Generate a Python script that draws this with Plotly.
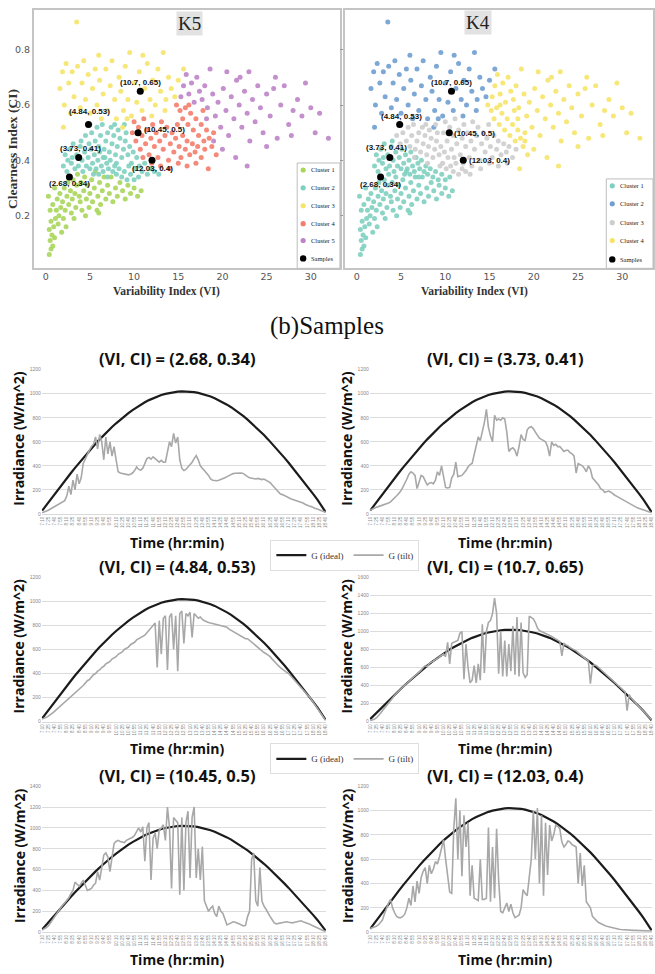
import plotly.graph_objects as go

W, H = 655, 974

# ---------------- scatter data (VI, CI) grouped by (K5 cluster, K4 cluster) ----------------
pts_k5c1_k4c1 = [(0.4,0.06),(0.6,0.08),(0.5,0.11),(0.8,0.09),(0.7,0.13),(1.0,0.12),(0.4,0.15),(0.9,0.16),(0.6,0.18),(1.1,0.19),
    (0.5,0.22),(0.8,0.24),(1.2,0.22),(1.4,0.17),(1.5,0.2),(1.3,0.26),(1.7,0.23),(1.6,0.28),(1.9,0.25),(2.0,0.19),(2.1,0.3),
    (2.2,0.22),(2.4,0.27),(2.5,0.32),(2.6,0.24),(2.8,0.29),(2.9,0.21),(3.0,0.26),(3.1,0.33),(3.3,0.28),(3.4,0.23),(3.5,0.31),
    (3.6,0.35),(3.8,0.27),(3.9,0.25),(4.0,0.32),(4.1,0.22),(4.3,0.29),(4.4,0.34),(4.6,0.26),(4.7,0.31),(4.9,0.23),(5.0,0.28),
    (5.2,0.33),(5.3,0.25),(5.5,0.3),(5.6,0.36),(5.8,0.22),(5.9,0.27),(6.1,0.32),(6.2,0.24),(6.4,0.29),(6.6,0.34),(6.8,0.26),
    (7.0,0.31),(7.2,0.28),(7.4,0.34),(7.6,0.25),(7.9,0.3),(8.1,0.27),(8.4,0.32),(8.7,0.29),(9.0,0.26),(9.3,0.31),(9.6,0.28),
    (10.0,0.3),(10.4,0.27),(10.8,0.29),(2.3,0.16),(1.8,0.14),(3.2,0.19),(6.0,0.21),(0.3,0.27),(1.0,0.3),(4.5,0.2)]
pts_k5c2_k4c1 = [(2.0,0.38),(2.2,0.42),(2.4,0.36),(2.7,0.44),(2.9,0.39),(3.1,0.46),(3.3,0.37),(3.5,0.42),(3.7,0.38),(3.9,0.45),
    (4.1,0.4),(4.2,0.36),(4.4,0.43),(4.6,0.38),(4.8,0.41),(5.0,0.37),(5.1,0.44),(5.3,0.39),(5.5,0.42),(5.7,0.37),(5.9,0.4),
    (6.1,0.43),(6.3,0.38),(6.5,0.36),(6.7,0.41),(6.9,0.39),(7.1,0.37),(7.3,0.4),(7.6,0.36),(7.8,0.38),(8.0,0.35),(8.3,0.37),
    (8.6,0.34),(8.9,0.36),(9.2,0.33),(9.6,0.35),(10.0,0.33),(10.5,0.34),(3.0,0.41),(4.0,0.47),(5.4,0.35),(6.0,0.35),(7.0,0.34),(2.5,0.4)]
pts_k5c2_k4c3 = [(4.5,0.49),(4.9,0.46),(5.2,0.5),(5.6,0.47),(5.8,0.52),(6.0,0.45),(6.2,0.49),(6.4,0.53),(6.6,0.44),(6.8,0.47),
    (7.0,0.5),(7.2,0.43),(7.4,0.52),(7.5,0.46),(7.7,0.49),(7.9,0.42),(8.1,0.45),(8.2,0.51),(8.4,0.48),(8.6,0.41),(8.8,0.44),
    (9.0,0.47),(9.1,0.5),(9.3,0.42),(9.5,0.45),(9.7,0.39),(9.9,0.43),(10.1,0.37),(10.3,0.41),(10.6,0.38),(10.9,0.36),(11.2,0.39),
    (11.5,0.35),(11.9,0.37),(12.3,0.36),(12.8,0.35),(8.0,0.39),(6.5,0.41),(9.4,0.38),(7.8,0.53),(5.0,0.53),(8.9,0.53)]
pts_k5c4_k4c3 = [(9.8,0.5),(10.0,0.54),(10.2,0.47),(10.5,0.52),(10.7,0.44),(10.9,0.49),(11.1,0.55),(11.3,0.46),(11.5,0.51),
    (11.7,0.42),(11.9,0.48),(12.1,0.53),(12.3,0.45),(12.5,0.5),(12.7,0.41),(12.9,0.47),(13.1,0.54),(13.3,0.44),(13.5,0.49),
    (13.7,0.52),(13.9,0.4),(14.1,0.46),(14.3,0.5),(14.5,0.43),(14.7,0.48),(14.9,0.53),(15.1,0.45),(15.3,0.41),(15.5,0.49),
    (15.8,0.44),(16.0,0.47),(16.3,0.42),(16.6,0.46),(16.9,0.43),(17.2,0.45),(17.6,0.41),(18.0,0.44),(13.0,0.38),(14.0,0.37),
    (12.0,0.39),(11.0,0.41),(15.0,0.39),(16.0,0.38),(17.0,0.39)]
pts_k5c4_k4c4 = [(15.2,0.58),(15.5,0.55),(15.8,0.59),(16.1,0.53),(16.4,0.57),(16.7,0.51),(17.0,0.55),(17.3,0.49),(17.6,0.53),
    (17.9,0.47),(18.2,0.51),(18.5,0.48),(18.8,0.45),(19.0,0.5),(18.4,0.37),(17.8,0.58),(16.2,0.6),(14.8,0.6),(19.3,0.42)]
pts_k5c5_k4c4 = [(15.3,0.63),(15.6,0.67),(15.9,0.71),(16.2,0.64),(16.5,0.68),(16.8,0.61),(17.1,0.7),(17.4,0.65),(17.7,0.62),
    (18.0,0.67),(18.3,0.59),(18.6,0.73),(18.9,0.64),(19.2,0.56),(19.5,0.61),(19.8,0.52),(20.1,0.66),(20.4,0.58),(20.7,0.49),
    (21.0,0.63),(21.3,0.55),(21.6,0.69),(21.9,0.6),(22.2,0.52),(22.5,0.65),(22.8,0.57),(23.1,0.47),(23.4,0.62),(23.7,0.54),
    (24.0,0.67),(24.3,0.59),(24.6,0.5),(25.0,0.64),(25.4,0.56),(25.8,0.66),(26.2,0.48),(26.6,0.6),(27.0,0.67),(27.5,0.53),
    (28.0,0.58),(28.5,0.62),(29.0,0.56),(29.4,0.68),(30.0,0.59),(30.5,0.5),(31.0,0.57),(32.0,0.48),(20.0,0.44),(21.5,0.41),
    (22.8,0.38),(19.0,0.47),(25.0,0.45),(27.8,0.49),(18.2,0.55),(20.5,0.72),(22.0,0.7),(23.0,0.72),(26.0,0.7)]
pts_k5c3_k4c2 = [(1.6,0.66),(1.9,0.72),(2.1,0.6),(2.3,0.75),(2.6,0.68),(2.8,0.57),(3.0,0.72),(3.2,0.63),(3.5,0.9),(3.6,0.74),
    (3.9,0.59),(4.1,0.68),(4.3,0.76),(4.5,0.62),(4.8,0.71),(5.0,0.57),(5.3,0.66),(5.6,0.73),(5.8,0.6),(6.1,0.69),(6.3,0.55),
    (6.5,0.64),(6.8,0.73),(7.0,0.58),(7.3,0.67),(7.5,0.76),(7.8,0.62),(8.0,0.55),(8.3,0.7),(8.5,0.65),(8.8,0.58),(9.0,0.74),
    (9.3,0.62),(9.5,0.79),(9.7,0.56),(10.0,0.68),(10.3,0.61),(10.6,0.72),(10.9,0.58),(11.2,0.66),(11.5,0.75),(11.8,0.62),
    (12.1,0.69),(12.4,0.6),(12.7,0.73),(13.0,0.65),(13.3,0.79),(13.6,0.62),(13.9,0.7),(14.2,0.66),(14.6,0.63),(15.0,0.69),
    (15.6,0.73),(8.7,0.52),(9.2,0.55),(6.0,0.78),(11.0,0.78),(12.0,0.56),(13.5,0.58),(2.0,0.52)]

sample_vi = [2.68, 3.73, 4.84, 10.7, 10.45, 12.03]
sample_ci = [0.34, 0.41, 0.53, 0.65, 0.5, 0.4]
sample_text = ["(2.68, 0.34)", "(3.73, 0.41)", "(4.84, 0.53)", "(10.7, 0.65)", "(10.45, 0.5)", "(12.03, 0.4)"]

k5_names = ["Cluster 1", "Cluster 2", "Cluster 3", "Cluster 4", "Cluster 5"]
k5_colors = ["#a9d65a", "#7fd0c0", "#f6e46a", "#f47c6c", "#bd83c6"]
k4_names = ["Cluster 1", "Cluster 2", "Cluster 3", "Cluster 4"]
k4_colors = ["#7fd0c0", "#6f9fd0", "#cdcdcd", "#f6e46a"]

groups = [  # (points, K5 cluster index, K4 cluster index)
    (pts_k5c1_k4c1, 0, 0), (pts_k5c2_k4c1, 1, 0), (pts_k5c2_k4c3, 1, 2), (pts_k5c4_k4c3, 3, 2),
    (pts_k5c4_k4c4, 3, 3), (pts_k5c5_k4c4, 4, 3), (pts_k5c3_k4c2, 2, 1)]

# ---------------- irradiance data ----------------
time_ticks = ["7:10","7:25","7:40","7:55","8:10","8:25","8:40","8:55","9:10","9:25","9:40","9:55","10:10","10:25",
    "10:40","10:55","11:10","11:25","11:40","11:55","12:10","12:25","12:40","12:55","13:10","13:25","13:40","13:55",
    "14:10","14:25","14:40","14:55","15:10","15:25","15:40","15:55","16:10","16:25","16:40","16:55","17:10","17:25",
    "17:40","17:55","18:10","18:25","18:40"]
tick_minutes = list(range(0, 691, 15))   # minutes after 7:10
ideal_minutes = list(range(0, 691, 10))
tilt_minutes = list(range(0, 691, 5))

g_ideal = [27,73,118,164,208,253,297,340,383,425,466,506,545,583,620,656,690,723,754,784,813,839,864,888,909,929,
    947,963,977,989,999,1007,1014,1018,1020,1020,1018,1014,1007,999,989,977,963,947,929,909,888,864,839,813,784,754,
    723,690,656,620,583,545,506,466,425,383,340,297,253,208,164,118,70,15]

tilt_1 = [10,15,20,30,40,50,60,65,75,85,95,110,
    150,230,160,280,200,330,250,300, 420,460,500,530, 560,580,640,540,660,600, 450,640,500,600,480,560,450,
    350,340,335,330,325,325,330,340,360,390, 370,365,380,420,460, 470,455,475,460,440,430,445,430,
    430,520,600,560,670,590,640,450,380, 360,370,390,410,430,460,485, 450,400,380,355,340,320,290,280,
    275,275,280,285,290,300,310,320,330,335,338,340,340, 340,335,320,310,300,295,290,290,295,290,285,290,280,270,
    260,240,220,200,180,165,160,150, 140,130,125,120,115,105,100,95,90, 80,70,65,60,50,45,40,30,25,20,15]
tilt_2 = [30,40,45,55,60,65,70,75,80,90, 100,115,130,150,170,190,220,250,290,330,
    350,340,320,210,260,320,310,280,240,255, 260,250,280,350,320,400,320,220,215,220,
    300,330,430,310,315,320,340,360,390,410, 420,500,560,640,610,680,760,870,720,650,
    600,820,780,790,780,800,790,680,520,540, 550,530,480,560,660,620,610,700,720,725,
    710,680,650,630,620,610,600,560,480,600, 570,580,560,560,540,520,530,530,510,500,
    480,340,420,410,400,380,350,400,370,300, 280,260,240,210,200,180,185,190,180,165,
    155,145,135,130,120,110,100,90,80,70, 60,50,45,40,30,25,20,15,10]
tilt_3 = [20,25,35,45,55,70,85,100,115,130, 145,160,175,190,210,225,240,255,270,285,
    300,320,340,350,370,390,400,420,430,450, 460,480,490,500,520,530,540,560,570,580,
    600,610,620,640,650,660,680,690,700,710, 720,740,760,780,800,820,450,840,560,860,
    880,430,870,900,600,880,420,900,920,650, 900,880,910,700,900,880,860,870,850,840,
    830,825,820,815,810,805,800,795,790,790, 785,770,760,750,740,730,720,710,700,690,
    690,675,660,645,630,615,600,590,575,565, 555,540,520,500,480,465,450,435,420,410,
    400,380,360,340,320,300,280,260,240,225, 210,185,160,135,110,85,60,35,10]
tilt_4 = [10,15,25,40,60,90,120,150,180,210, 240,265,290,315,340,361,383,404,425,445,
    466,486,506,525,545,570,600,620,610,645, 660,670,690,700,720,740,750,720,880,640,
    870,880,890,900,980,1000,470,860,600,430, 460,620,430,640,460,1080,540,1000,1100,1120,
    1200,1370,1200,530,1000,500,900,500,860,560, 1060,520,1160,500,1100,540,490,520,1170,1150,
    1140,1100,1040,1010,1000,985,975,965,955,945, 930,915,900,890,730,870,850,840,820,810,
    800,785,765,745,730,710,690,670,420,620, 630,620,600,580,560,540,520,500,480,460,
    440,420,400,380,350,330,120,300,260,230, 210,185,160,135,110,85,60,35,20]
tilt_5 = [20,30,45,60,90,120,150,175,200,230, 260,280,300,330,370,400,480,460,440,470,
    500,450,400,410,420,450,470,580,500,620, 740,760,720,580,720,850,870,880,870,865,
    860,880,890,900,910,930,960,1000,960,1010, 680,1000,1050,500,900,950,800,980,1000,1030,
    880,1200,1000,420,1100,1080,1050,360,1100,400, 1050,1160,520,1100,1200,520,800,500,820,300,
    250,200,230,250,180,150,250,200,180,120, 70,80,90,100,95,90,80,70,60,65,
    150,200,700,760,300,250,620,300,250,220, 180,150,120,90,80,85,90,95,100,100,
    95,90,90,95,100,105,110,100,95,90, 80,70,60,50,40,30,20,15,10]
tilt_6 = [30,35,40,50,60,80,100,150,200,240, 270,200,160,130,120,120,130,150,200,280,
    220,380,250,420,320,450,500,530,400,550, 480,520,580,560,620,700,760,600,450,330,
    320,850,1100,600,1000,460,960,700,900,300, 550,280,270,260,600,270,270,280,860,250,
    700,280,850,430,170,160,200,240,170,230, 160,120,130,140,200,350,320,300,450,600,
    1000,600,1020,400,960,300,900,470,880,750, 800,880,870,850,740,700,720,750,740,720,
    710,700,400,650,380,550,250,220,200,130, 110,95,80,70,60,55,50,45,40,35,
    30,28,25,22,20,20,18,17,16,15, 15,14,13,12,12,11,10,10,10]

panel_titles = ["(VI, CI) = (2.68, 0.34)", "(VI, CI) = (3.73, 0.41)", "(VI, CI) = (4.84, 0.53)",
                "(VI, CI) = (10.7, 0.65)", "(VI, CI) = (10.45, 0.5)", "(VI, CI) = (12.03, 0.4)"]
panel_tilts = [tilt_1, tilt_2, tilt_3, tilt_4, tilt_5, tilt_6]
panel_ymax = [1200, 1200, 1200, 1600, 1400, 1200]

# ---------------- layout helpers ----------------
def fx(p):
    return p / W

def fy(p):
    return 1 - p / H

fig = go.Figure()
layout = dict(width=W, height=H, margin=dict(l=0, r=0, t=0, b=0), autosize=False,
              paper_bgcolor="white", plot_bgcolor="white", showlegend=True)
annotations = []
shapes = []

SERIF = "Liberation Serif, Times New Roman, serif"
SANS = "Open Sans, sans-serif"
LABEL = "Liberation Sans, Arial, sans-serif"

# ---------------- scatter panels ----------------
scat_dom_x = [[fx(32), fx(340)], [fx(345), fx(655)]]
scat_xrange = [[-1.35, 33.3], [-1.35, 33.48]]
for k in range(2):
    xa = "xaxis" if k == 0 else "xaxis2"
    ya = "yaxis" if k == 0 else "yaxis2"
    layout[xa] = dict(domain=scat_dom_x[k], range=scat_xrange[k], anchor="y" if k == 0 else "y2",
                      tickvals=[0, 5, 10, 15, 20, 25, 30], showgrid=False, zeroline=False,
                      showline=True, mirror=True, linecolor="#c4c4c4", linewidth=1.5,
                      tickfont=dict(family="DejaVu Sans", size=9.5, color="#555"), ticks="",
                      ticklabelstandoff=-2)
    layout[ya] = dict(domain=[fy(267), fy(7)], range=[0.0096, 0.9437], anchor="x" if k == 0 else "x2",
                      tickvals=[0.2, 0.4, 0.6, 0.8], showgrid=False, zeroline=False,
                      showline=True, mirror=True, linecolor="#c4c4c4", linewidth=1.5,
                      tickfont=dict(family="DejaVu Sans", size=9.5, color="#555"),
                      showticklabels=(k == 0), ticks="" if k == 0 else "outside", ticklen=3, tickcolor="#999")

for k5_i in range(5):
    vx, vy = [], []
    for pts, a, b in groups:
        if a == k5_i:
            vx += [p[0] for p in pts]
            vy += [p[1] for p in pts]
    fig.add_trace(go.Scatter(x=vx, y=vy, mode="markers", xaxis="x", yaxis="y", showlegend=False,
                             marker=dict(size=5, color=k5_colors[k5_i], opacity=0.9)))
for k4_i in range(4):
    vx, vy = [], []
    for pts, a, b in groups:
        if b == k4_i:
            vx += [p[0] for p in pts]
            vy += [p[1] for p in pts]
    fig.add_trace(go.Scatter(x=vx, y=vy, mode="markers", xaxis="x2", yaxis="y2", showlegend=False,
                             marker=dict(size=5, color=k4_colors[k4_i], opacity=0.9)))
for xr, yr in [("x", "y"), ("x2", "y2")]:
    fig.add_trace(go.Scatter(x=sample_vi, y=sample_ci, mode="markers", xaxis=xr, yaxis=yr, showlegend=False,
                             marker=dict(size=7, color="black")))

# (xshift, yshift, xanchor)
k5_shift = [(0, -7, "center"), (2, 9, "center"), (1, 13, "center"), (0, 9, "center"), (4, 3, "left"), (0, -8, "center")]
k4_shift = [(0, -8, "center"), (-3, 10, "center"), (2, 8, "center"), (0, 9, "center"), (3, -1, "left"), (4, 0, "left")]
for shifts, xr, yr in [(k5_shift, "x", "y"), (k4_shift, "x2", "y2")]:
    for i in range(6):
        annotations.append(dict(x=sample_vi[i], y=sample_ci[i], xref=xr, yref=yr, text="<b>" + sample_text[i] + "</b>",
                                showarrow=False, xshift=shifts[i][0], yshift=shifts[i][1],
                                font=dict(family=LABEL, size=8, color="#111"), xanchor=shifts[i][2], yanchor="middle"))

# titles K5 / K4
for txt, cx, cy in [("K5", 189, 21), ("K4", 479, 20)]:
    annotations.append(dict(x=fx(cx), y=fy(cy), xref="paper", yref="paper", text=txt, showarrow=False,
                            font=dict(family=SERIF, size=19, color="#222"), bgcolor="#e2e2e2",
                            xanchor="center", yanchor="middle", borderpad=1))
annotations.append(dict(x=fx(10), y=fy(147), xref="paper", yref="paper", text="<b>Clearness Index (CI)</b>",
                        textangle=-90, showarrow=False, font=dict(family=SERIF, size=13.5, color="#333"),
                        xanchor="center", yanchor="middle"))
for cx in [166, 475]:
    annotations.append(dict(x=fx(cx), y=fy(290), xref="paper", yref="paper", text="<b>Variability Index (VI)</b>",
                            showarrow=False, font=dict(family=SERIF, size=11.5, color="#333"),
                            xanchor="center", yanchor="middle"))

# custom legends inside scatter panels
def scatter_legend(x0, x1, y0, y1, names, colors, rows):
    shapes.append(dict(type="rect", xref="paper", yref="paper", x0=fx(x0), x1=fx(x1), y0=fy(y1), y1=fy(y0),
                       line=dict(color="#bdbdbd", width=1), fillcolor="white", layer="above"))
    labels = names + ["Samples"]
    cols = colors + ["black"]
    for i, (nm, c) in enumerate(zip(labels, cols)):
        ry = rows[i]
        r = 2.6 if nm != "Samples" else 3.2
        shapes.append(dict(type="circle", xref="paper", yref="paper", x0=fx(x0 + 6 - r), x1=fx(x0 + 6 + r),
                           y0=fy(ry + r), y1=fy(ry - r), fillcolor=c, line=dict(width=0), layer="above"))
        annotations.append(dict(x=fx(x0 + 12), y=fy(ry), xref="paper", yref="paper", text=nm, showarrow=False,
                                font=dict(family=SERIF, size=6.5, color="#222"), xanchor="left", yanchor="middle"))

scatter_legend(297, 340, 161, 267, k5_names, k5_colors, [168, 186, 204, 222, 239, 257])
scatter_legend(608, 655, 177, 267, k4_names, k4_colors, [184, 202, 221, 239, 258])

annotations.append(dict(x=fx(327), y=fy(325), xref="paper", yref="paper", text="(b)Samples", showarrow=False,
                        font=dict(family=SERIF, size=25, color="#111"), xanchor="center", yanchor="middle"))

# ---------------- irradiance panels ----------------
col_x = [[40, 326], [370, 654]]
row_y = [[369, 514], [578, 723], [788, 935]]
title_y = [358, 567, 777]
time_y = [543, 750, 962]
title_cx = [177, 507]
ytitle_cx = [17, 347]

for p in range(6):
    r, c = p // 2, p % 2
    n = p + 3
    xa, ya = f"xaxis{n}", f"yaxis{n}"
    layout[xa] = dict(domain=[fx(col_x[c][0]), fx(col_x[c][1])], range=[-1, 691], anchor=f"y{n}",
                      tickvals=tick_minutes, ticktext=time_ticks, tickangle=-90,
                      tickfont=dict(family="Liberation Sans", size=4.5, color="#888"),
                      showgrid=False, zeroline=False, showline=True, linecolor="#d9d9d9", linewidth=1, ticks="")
    layout[ya] = dict(domain=[fy(row_y[r][1]), fy(row_y[r][0])], range=[0, panel_ymax[p]], anchor=f"x{n}",
                      dtick=200, showgrid=True, gridcolor="#dcdcdc", gridwidth=1, zeroline=False, showline=False,
                      tickfont=dict(family="Liberation Sans", size=5, color="#888"), ticks="")
    leg = None
    show = False
    if p == 0:
        leg, show = "legend", True
    elif p == 2:
        leg, show = "legend2", True
    kw = dict(legend=leg) if leg else {}
    fig.add_trace(go.Scatter(x=ideal_minutes, y=g_ideal, mode="lines", name="G (ideal)", xaxis=f"x{n}",
                             yaxis=f"y{n}", line=dict(color="#1c1c1c", width=2.2), showlegend=show, **kw))
    fig.add_trace(go.Scatter(x=tilt_minutes, y=panel_tilts[p], mode="lines", name="G (tilt)", xaxis=f"x{n}",
                             yaxis=f"y{n}", line=dict(color="#a8a8a8", width=1.6), showlegend=show, **kw))
    annotations.append(dict(x=fx(title_cx[c]), y=fy(title_y[r]), xref="paper", yref="paper",
                            text="<b>" + panel_titles[p] + "</b>", showarrow=False,
                            font=dict(family=SANS, size=16.5, color="#111"), xanchor="center", yanchor="middle"))
    annotations.append(dict(x=fx(ytitle_cx[c]), y=fy((row_y[r][0] + row_y[r][1]) / 2 - 4), xref="paper", yref="paper",
                            text="<b>Irradiance (W/m^2)</b>", textangle=-90, showarrow=False,
                            font=dict(family=SANS, size=14, color="#111"), xanchor="center", yanchor="middle"))
    annotations.append(dict(x=fx(title_cx[c]), y=fy(time_y[r]), xref="paper", yref="paper",
                            text="<b>Time (hr:min)</b>", showarrow=False,
                            font=dict(family=SANS, size=14, color="#111"), xanchor="center", yanchor="middle"))

leg_common = dict(orientation="h", xanchor="left", yanchor="top", bgcolor="white", bordercolor="#dedede",
                  borderwidth=1, font=dict(family=SERIF, size=9, color="#333"), itemwidth=30,
                  tracegroupgap=0)
layout["legend"] = dict(x=fx(270), y=fy(540), **leg_common)
layout["legend2"] = dict(x=fx(270), y=fy(745), **leg_common)

layout["annotations"] = annotations
layout["shapes"] = shapes
fig.update_layout(**layout)
fig.write_html("out.html")
